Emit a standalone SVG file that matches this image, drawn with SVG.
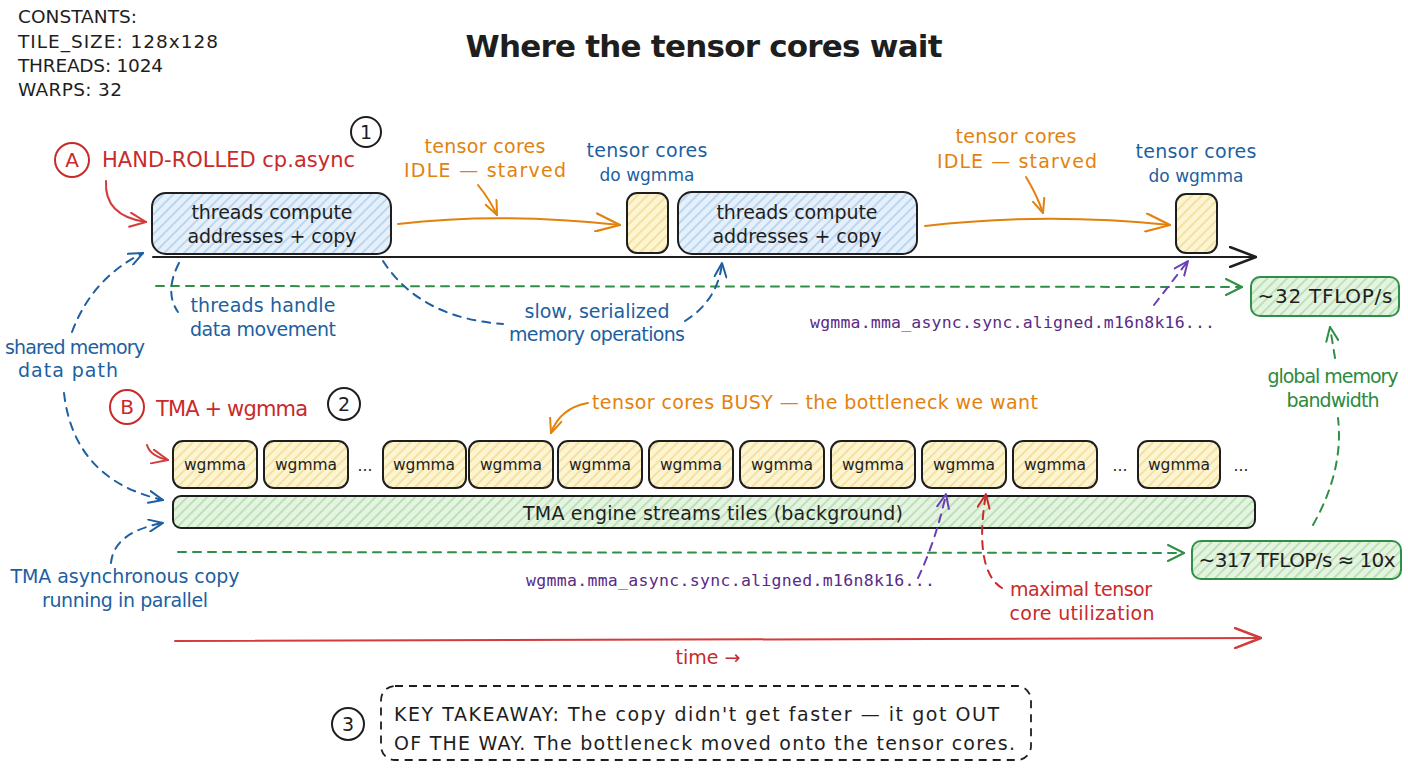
<svg xmlns="http://www.w3.org/2000/svg" width="1408" height="768" viewBox="0 0 1408 768">
<defs>
<style>
text{font-family:"DejaVu Sans","Liberation Sans",sans-serif;}
.k{fill:#1e1e1e}
.r{fill:#c92a2a}
.o{fill:#e2820e}
.b{fill:#1d5fa0}
.g{fill:#2b8a3e}
.c{text-anchor:middle}
.lbl{font-size:19px}
.mono{font-family:"DejaVu Sans Mono","Liberation Mono",monospace;fill:#5a2a87;font-size:16.5px}
.box{stroke:#1e1e1e;stroke-width:2}
.gbox{stroke:#2f8f46;stroke-width:2}
.wg{font-size:15.5px;fill:#1e1e1e;text-anchor:middle}
.ln{fill:none;stroke-width:2;stroke-linecap:round}
.d{stroke-dasharray:8 7}
.circ{fill:none;stroke-width:2}
</style>
<pattern id="hb" width="7" height="7" patternUnits="userSpaceOnUse" patternTransform="rotate(45)"><rect width="7" height="7" fill="#e6f0fa"/><line x1="1" y1="0" x2="1" y2="7" stroke="#a9cbed" stroke-width="1.4"/></pattern>
<pattern id="hy" width="7" height="7" patternUnits="userSpaceOnUse" patternTransform="rotate(45)"><rect width="7" height="7" fill="#fdf5d2"/><line x1="1" y1="0" x2="1" y2="7" stroke="#f1d88a" stroke-width="1.4"/></pattern>
<pattern id="hg" width="7" height="7" patternUnits="userSpaceOnUse" patternTransform="rotate(45)"><rect width="7" height="7" fill="#e4f4e1"/><line x1="1" y1="0" x2="1" y2="7" stroke="#acd9a6" stroke-width="1.4"/></pattern>
<marker id="mk" viewBox="0 0 28 22" refX="27" refY="11" markerWidth="28" markerHeight="22" markerUnits="userSpaceOnUse" orient="auto"><path d="M1,1 L27,11 L1,21" fill="none" stroke="#1e1e1e" stroke-width="2.5" stroke-linecap="round" stroke-linejoin="round"/></marker>
<marker id="mrB" viewBox="0 0 28 22" refX="27" refY="11" markerWidth="28" markerHeight="22" markerUnits="userSpaceOnUse" orient="auto"><path d="M1,1 L27,11 L1,21" fill="none" stroke="#d23c3c" stroke-width="2.5" stroke-linecap="round" stroke-linejoin="round"/></marker>
<marker id="mo" viewBox="0 0 26 20" refX="25" refY="10" markerWidth="26" markerHeight="20" markerUnits="userSpaceOnUse" orient="auto"><path d="M1,1 L25,10 L1,19" fill="none" stroke="#e2820e" stroke-width="2.2" stroke-linecap="round" stroke-linejoin="round"/></marker>
<marker id="mos" viewBox="0 0 16 14" refX="15" refY="7" markerWidth="16" markerHeight="14" markerUnits="userSpaceOnUse" orient="auto"><path d="M1,1 L15,7 L1,13" fill="none" stroke="#e2820e" stroke-width="2" stroke-linecap="round" stroke-linejoin="round"/></marker>
<marker id="mrs" viewBox="0 0 18 16" refX="17" refY="8" markerWidth="18" markerHeight="16" markerUnits="userSpaceOnUse" orient="auto"><path d="M1,1 L17,8 L1,15" fill="none" stroke="#d23c3c" stroke-width="2" stroke-linecap="round" stroke-linejoin="round"/></marker>
<marker id="mb" viewBox="0 0 16 14" refX="15" refY="7" markerWidth="16" markerHeight="14" markerUnits="userSpaceOnUse" orient="auto"><path d="M1,1 L15,7 L1,13" fill="none" stroke="#1d5fa0" stroke-width="2" stroke-linecap="round" stroke-linejoin="round"/></marker>
<marker id="mg" viewBox="0 0 18 18" refX="17" refY="9" markerWidth="18" markerHeight="18" markerUnits="userSpaceOnUse" orient="auto"><path d="M1,1 L17,9 L1,17" fill="none" stroke="#2f8f46" stroke-width="2" stroke-linecap="round" stroke-linejoin="round"/></marker>
<marker id="mgs" viewBox="0 0 16 14" refX="15" refY="7" markerWidth="16" markerHeight="14" markerUnits="userSpaceOnUse" orient="auto"><path d="M1,1 L15,7 L1,13" fill="none" stroke="#2f8f46" stroke-width="2" stroke-linecap="round" stroke-linejoin="round"/></marker>
<marker id="mp" viewBox="0 0 16 14" refX="15" refY="7" markerWidth="16" markerHeight="14" markerUnits="userSpaceOnUse" orient="auto"><path d="M1,1 L15,7 L1,13" fill="none" stroke="#6a3fb5" stroke-width="2" stroke-linecap="round" stroke-linejoin="round"/></marker>
<marker id="mr" viewBox="0 0 16 14" refX="15" refY="7" markerWidth="16" markerHeight="14" markerUnits="userSpaceOnUse" orient="auto"><path d="M1,1 L15,7 L1,13" fill="none" stroke="#c92a2a" stroke-width="2" stroke-linecap="round" stroke-linejoin="round"/></marker>
</defs>
<rect width="1408" height="768" fill="#ffffff"/>

<g id="constants" class="k" font-size="18.5">
<text x="18" y="23" textLength="119">CONSTANTS:</text>
<text x="18" y="48" textLength="200">TILE_SIZE: 128x128</text>
<text x="18" y="72" textLength="145">THREADS: 1024</text>
<text x="18" y="96" textLength="104">WARPS: 32</text>
</g>
<g id="title"><text class="k c" x="704" y="57" font-size="31" font-weight="bold" textLength="477">Where the tensor cores wait</text></g>

<g id="labelA">
<circle class="circ" stroke="#c92a2a" cx="72" cy="160" r="17"/>
<text class="r c" x="72" y="167" font-size="20">A</text>
<text class="r" x="102" y="167" font-size="21" textLength="253">HAND-ROLLED cp.async</text>
</g>
<g id="step1"><circle class="circ" stroke="#1e1e1e" cx="366" cy="132" r="15"/><text class="k c" x="366" y="139" font-size="19">1</text></g>

<g id="copyA1">
<rect class="box" x="152" y="193" width="239" height="61" rx="14" fill="url(#hb)"/>
<text class="k c lbl" x="272" y="219" textLength="161">threads compute</text>
<text class="k c lbl" x="272" y="243" textLength="169">addresses + copy</text>
</g>
<g id="idle1">
<text class="o c lbl" x="485" y="153" textLength="121">tensor cores</text>
<text class="o c lbl" x="485" y="177" textLength="162">IDLE — starved</text>
</g>
<g id="mmaA1">
<rect class="box" x="627" y="193" width="41" height="60" rx="10" fill="url(#hy)"/>
<text class="b c lbl" x="647" y="157" textLength="121">tensor cores</text>
<text class="b c" x="647" y="181" font-size="17">do wgmma</text>
</g>
<g id="copyA2">
<rect class="box" x="678" y="192" width="239" height="62" rx="14" fill="url(#hb)"/>
<text class="k c lbl" x="797" y="219" textLength="161">threads compute</text>
<text class="k c lbl" x="797" y="243" textLength="169">addresses + copy</text>
</g>
<g id="idle2">
<text class="o c lbl" x="1016" y="143" textLength="121">tensor cores</text>
<text class="o c lbl" x="1017" y="168" textLength="160">IDLE — starved</text>
</g>
<g id="mmaA2">
<rect class="box" x="1176" y="194" width="41" height="59" rx="10" fill="url(#hy)"/>
<text class="b c lbl" x="1196" y="158" textLength="121">tensor cores</text>
<text class="b c" x="1196" y="182" font-size="17">do wgmma</text>
</g>

<g id="threadsHandle">
<text class="b c lbl" x="263" y="312" textLength="145">threads handle</text>
<text class="b c lbl" x="263" y="336" textLength="146">data movement</text>
</g>
<g id="slowSerial">
<text class="b c lbl" x="597" y="318" textLength="145">slow, serialized</text>
<text class="b c lbl" x="597" y="341" textLength="176">memory operations</text>
</g>
<g id="sharedMem">
<text class="b c lbl" x="75" y="354" textLength="140">shared memory</text>
<text class="b c lbl" x="68" y="377" textLength="100">data path</text>
</g>
<g id="monoA"><text class="mono" x="810" y="328" textLength="405">wgmma.mma_async.sync.aligned.m16n8k16...</text></g>
<g id="tflop32">
<rect class="gbox" x="1251" y="277" width="148" height="39" rx="9" fill="url(#hg)"/>
<text class="k c" x="1325" y="303" font-size="20" textLength="135">~32 TFLOP/s</text>
</g>
<g id="globalMem">
<text class="g c lbl" x="1333" y="383" textLength="131">global memory</text>
<text class="g c lbl" x="1333" y="407" textLength="93">bandwidth</text>
</g>

<g id="labelB">
<circle class="circ" stroke="#c92a2a" cx="127" cy="407" r="17"/>
<text class="r c" x="127" y="414" font-size="20">B</text>
<text class="r" x="156" y="416" font-size="21" textLength="152">TMA + wgmma</text>
</g>
<g id="step2"><circle class="circ" stroke="#1e1e1e" cx="344" cy="404" r="16"/><text class="k c" x="344" y="411" font-size="19">2</text></g>
<g id="busy"><text class="o lbl" x="592" y="409" textLength="446">tensor cores BUSY — the bottleneck we want</text></g>

<g id="wgmmaRow">
<rect class="box" x="173" y="441" width="84" height="47" rx="10" fill="url(#hy)"/><text class="wg" x="215" y="470">wgmma</text>
<rect class="box" x="264" y="441" width="84" height="47" rx="10" fill="url(#hy)"/><text class="wg" x="306" y="470">wgmma</text>
<text class="wg" x="365" y="471" font-size="17">...</text>
<rect class="box" x="383" y="441" width="83" height="47" rx="10" fill="url(#hy)"/><text class="wg" x="424" y="470">wgmma</text>
<rect class="box" x="469" y="441" width="84" height="47" rx="10" fill="url(#hy)"/><text class="wg" x="511" y="470">wgmma</text>
<rect class="box" x="558" y="441" width="84" height="47" rx="10" fill="url(#hy)"/><text class="wg" x="600" y="470">wgmma</text>
<rect class="box" x="649" y="441" width="84" height="47" rx="10" fill="url(#hy)"/><text class="wg" x="691" y="470">wgmma</text>
<rect class="box" x="740" y="441" width="84" height="47" rx="10" fill="url(#hy)"/><text class="wg" x="782" y="470">wgmma</text>
<rect class="box" x="831" y="441" width="84" height="47" rx="10" fill="url(#hy)"/><text class="wg" x="873" y="470">wgmma</text>
<rect class="box" x="922" y="441" width="84" height="47" rx="10" fill="url(#hy)"/><text class="wg" x="964" y="470">wgmma</text>
<rect class="box" x="1013" y="441" width="84" height="47" rx="10" fill="url(#hy)"/><text class="wg" x="1055" y="470">wgmma</text>
<text class="wg" x="1120" y="471" font-size="17">...</text>
<rect class="box" x="1138" y="441" width="82" height="47" rx="10" fill="url(#hy)"/><text class="wg" x="1179" y="470">wgmma</text>
<text class="wg" x="1241" y="471" font-size="17">...</text>
</g>
<g id="tmaBar">
<rect class="box" x="173" y="496" width="1082" height="32" rx="8" fill="url(#hg)"/>
<text class="k c lbl" x="713" y="520" textLength="380">TMA engine streams tiles (background)</text>
</g>
<g id="tmaAsync">
<text class="b c lbl" x="125" y="583" textLength="229">TMA asynchronous copy</text>
<text class="b c lbl" x="125" y="607" textLength="166">running in parallel</text>
</g>
<g id="monoB"><text class="mono" x="526" y="586" textLength="409">wgmma.mma_async.sync.aligned.m16n8k16...</text></g>
<g id="maximal">
<text class="r c lbl" x="1081" y="596" textLength="142">maximal tensor</text>
<text class="r c lbl" x="1082" y="620" textLength="145">core utilization</text>
</g>
<g id="tflop317">
<rect class="gbox" x="1192" y="541" width="209" height="38" rx="9" fill="url(#hg)"/>
<text class="k c" x="1297" y="567" font-size="20" textLength="197">~317 TFLOP/s ≈ 10x</text>
</g>
<g id="timeLabel"><text class="r c lbl" x="708" y="664">time →</text></g>

<g id="step3"><circle class="circ" stroke="#1e1e1e" cx="348" cy="724" r="16"/><text class="k c" x="348" y="731" font-size="19">3</text></g>
<g id="takeaway">
<rect x="381" y="686" width="650" height="74" rx="14" fill="none" stroke="#1e1e1e" stroke-width="1.8" stroke-dasharray="8 6"/>
<text class="k lbl" x="394" y="721" textLength="605">KEY TAKEAWAY: The copy didn't get faster — it got OUT</text>
<text class="k lbl" x="394" y="750" textLength="621">OF THE WAY. The bottleneck moved onto the tensor cores.</text>
</g>

<g id="connectors">
<path class="ln" stroke="#d23c3c" d="M106,181 Q104,216 146,222" marker-end="url(#mrs)"/>
<path class="ln" stroke="#d23c3c" d="M147,445 Q150,456 168,460" marker-end="url(#mrs)"/>
<path class="ln" stroke="#e2820e" d="M398,224 Q500,212 620,225" marker-end="url(#mo)"/>
<path class="ln" stroke="#e2820e" d="M478,185 Q490,200 497,215" marker-end="url(#mos)"/>
<path class="ln" stroke="#e2820e" d="M925,226 Q1045,212 1170,225" marker-end="url(#mo)"/>
<path class="ln" stroke="#e2820e" d="M1026,177 Q1037,195 1043,213" marker-end="url(#mos)"/>
<path class="ln" stroke="#e2820e" d="M588,403 Q560,408 551,433" marker-end="url(#mos)"/>
<path class="ln" stroke="#1e1e1e" stroke-width="2.5" d="M153,257 L1256,257" marker-end="url(#mk)"/>
<path class="ln d" stroke="#2f8f46" d="M156,286 L1242,287" marker-end="url(#mg)"/>
<path class="ln d" stroke="#2f8f46" d="M178,552 L1184,553" marker-end="url(#mg)"/>
<path class="ln d" stroke="#6a3fb5" d="M1154,305 L1188,261" marker-end="url(#mp)"/>
<path class="ln d" stroke="#6a3fb5" d="M918,578 Q936,540 946,494" marker-end="url(#mp)"/>
<path class="ln d" stroke="#c92a2a" d="M1002,588 C982,576 978,540 986,494" marker-end="url(#mr)"/>
<path class="ln d" stroke="#1d5fa0" d="M179,263 Q164,292 178,312"/>
<path class="ln d" stroke="#1d5fa0" d="M383,261 Q420,318 503,324"/>
<path class="ln d" stroke="#1d5fa0" d="M685,321 Q718,300 722,263" marker-end="url(#mb)"/>
<path class="ln d" stroke="#1d5fa0" d="M72,332 Q92,278 143,253" marker-end="url(#mb)"/>
<path class="ln d" stroke="#1d5fa0" d="M64,393 Q74,480 163,500" marker-end="url(#mb)"/>
<path class="ln d" stroke="#1d5fa0" d="M111,563 Q114,532 163,523" marker-end="url(#mb)"/>
<path class="ln d" stroke="#2f8f46" d="M1313,525 Q1344,470 1338,418"/>
<path class="ln d" stroke="#2f8f46" d="M1335,358 L1330,327" marker-end="url(#mgs)"/>
<path class="ln" stroke="#d23c3c" stroke-width="2.5" d="M175,641 L1261,638" marker-end="url(#mrB)"/>
</g>
</svg>
